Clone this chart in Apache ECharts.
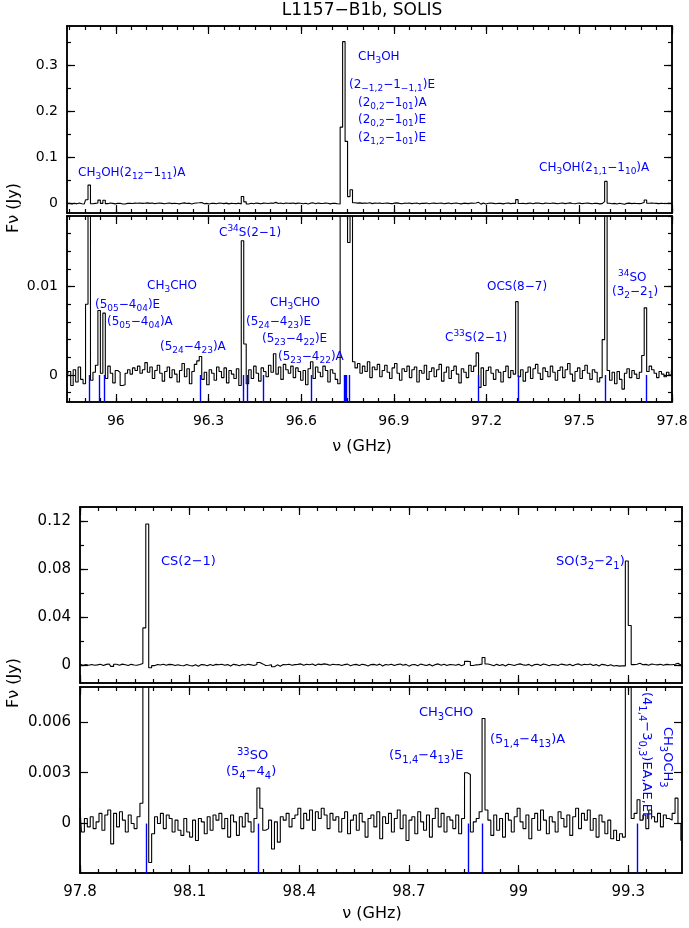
<!DOCTYPE html>
<html><head><meta charset="utf-8">
<script src="https://cdn.jsdelivr.net/npm/echarts@6/dist/echarts.min.js"></script>
<style>html,body{margin:0;padding:0;background:#fff}#c{width:689px;height:928px}</style>
</head><body><div id="c"></div>
<script>
// ---------------- DATA ----------------
// Upper spectrum (95.84-97.80 GHz): channel centres = start + i*width, flux in mJy
const topFreqStart = 95.842;
const topChannelWidth = 0.008;
const topFluxMJy = [
 -0.3, 0.4, -1.2, 0.6, -0.8, 0.9, -0.5, -1.0, 8.0, 40,
 -0.6, 0.3, 1.1, 7.3, 0.2, 7.0, -0.4, 1.0, 0.2, -0.9,
 0.5, 0.3, -1.2, -1.1, 0.2, 0.6, 0.1, 0.8, 0.5, 1.0,
 0.2, 0.6, 1.4, 0.3, 0.9, -0.4, 0.5, 1.1, 0.2, -0.7,
 0.4, 0.9, -0.3, 0.6, 0.1, -0.8, 0.5, 1.3, -0.2, 0.7,
 -1.0, 0.4, 1.2, 1.6, 2.1, -0.5, 0.3, -1.1, 0.6, 0.2,
 -0.6, 0.9, 0.4, -0.3, 0.8, -0.9, 0.5, 0.1, -0.4, 0.7,
 -1.2, 15.2, 3.5, -1.0, 0.6, -0.4, 1.0, 0.2, -0.7, 0.8,
 0.4, -0.2, 1.1, 0.3, 2.4, 0.1, 0.9, -0.5, 1.2, 0.6,
 0.2, 1.0, -0.3, 0.8, 0.4, -0.6, 0.5, -1.1, 0.7, 1.5,
 -0.4, 0.9, 0.3, -0.2, 1.0, 0.5, -0.8, 0.6, 0.2, -0.5,
 -1.0, 166, 352, 135, 15, 30, 1.5, 0.8, 1.3, 0.2,
 1.0, 0.4, 1.5, -0.3, 0.9, 0.6, 1.2, -0.2, 0.5, 1.1,
 0.3, -0.4, 0.8, 1.3, 0.2, -0.6, 0.7, 0.4, 1.0, -0.3,
 0.6, 0.9, -0.8, 0.5, 0.2, 1.1, -0.5, 0.4, 0.8, -0.2,
 0.6, 1.2, -0.7, 0.3, 0.9, -0.4, 0.5, 1.0, 0.1, -0.9,
 0.7, 0.3, -0.3, 1.1, 0.4, 1.0, 2.5, -1.4, 0.8, -1.2,
 0.5, 0.9, 0.2, -0.5, 0.6, 0.3, -0.8, 0.4, 1.0, -0.3,
 0.5, 0.1, 8.3, -0.2, 0.6, -0.7, 0.3, 0.9, -0.4, 0.7,
 1.2, 0.2, -0.5, 0.8, 0.4, -0.2, 1.0, 0.3, -0.6, 0.5,
 0.9, -0.3, 0.6, 1.3, 0.1, -0.7, 0.4, 0.8, -0.4, 0.5,
 1.1, 0.2, -0.5, 0.6, 0.3, -0.8, -0.3, 4.0, 48, 0.5,
 -0.6, 0.3, -1.0, 0.4, -0.5, -1.6, 0.2, 0.7, -0.3, 0.5,
 0.1, -0.4, 0.3, 2.2, 7.6, 0.4, 1.0, 0.6, 0.2, -0.3,
 0.4, 0.1, -0.2, 0.3, 0.0, 0.5
];
// Lower spectrum (97.80-99.45 GHz)
const botFreqStart = 97.8;
const botChannelWidth = 0.008;
const botFluxMJy = [
 0.9, -0.5, 0.3, -0.2, 0.4, -0.3, 0.1, 0.6, -0.4, 0.5,
 0.8, -1.2, 0.6, -0.2, 0.7, 0.2, -0.5, 0.5, 0.0, -0.3,
 0.4, 1.2, 31, 118, -2.3, -0.6, 0.4, 0.0, 0.6, -0.3,
 0.5, 0.3, -0.5, 0.2, -0.4, -0.7, 0.3, -0.5, -0.8, 0.2,
 -1.0, 0.3, 0.1, -0.6, 0.4, -0.4, 0.5, 0.2, 0.6, -0.3,
 0.3, -0.8, 0.5, 0.1, -0.7, 0.4, -0.2, 0.6, 0.1, -0.5,
 0.3, 2.1, 0.9, -0.4, -0.3, 0.2, -1.5, 0.1, -1.1, 0.4,
 0.2, 0.6, -0.2, 0.3, 0.5, 0.9, -0.3, 0.6, 0.2, 0.8,
 -0.4, 0.7, 0.3, 0.9, 0.5, -0.3, 0.6, 0.2, 0.4, -0.5,
 0.3, 0.7, -0.6, 0.2, 0.5, -0.4, 0.6, 0.1, -0.8, 0.3,
 0.5, -0.2, 0.7, -0.9, 0.4, 0.0, 0.6, -0.5, 0.3, 0.8,
 -0.3, 0.5, -1.0, 0.2, 0.4, -0.6, 0.7, 0.1, -0.4, 0.5,
 -0.8, 0.3, 0.9, -0.2, 0.6, -0.5, 0.4, 0.2, -0.3, 0.5,
 -0.6, 0.3, 3.0, 2.9, -0.5, 0.1, 0.3, 0.7, 6.2, 0.8,
 0.2, -0.7, 0.5, -0.4, 0.3, -0.8, 0.6, 0.2, -0.5, 0.4,
 0.9, 0.1, -0.3, 0.5, -0.9, 0.3, 0.6, -0.4, 0.8, 0.2,
 -0.6, 0.4, 0.1, -0.5, 0.7, 0.3, -0.2, 0.5, -0.7, 0.4,
 0.9, -0.3, 0.6, 0.2, 0.8, -0.4, 0.3, -0.8, 0.5, 0.1,
 -0.6, 0.2, -0.9, -0.4, -1.0, -0.6, -0.8, 87, 33, 0.3,
 0.6, 1.4, 0.2, 0.5, -0.3, 0.8, 0.4, 0.1, 0.6, -0.2,
 0.5, 0.3, 0.2, 0.6, 1.5, 0.0, -1.0
];
// Rest frequencies of identified lines (blue markers), GHz
const topLineFreqs = [95.9143, 95.9474, 95.9633, 96.2742, 96.4130, 96.4256, 96.4757, 96.6327,
  96.7394, 96.7414, 96.7445, 96.7555, 97.1720, 97.3012, 97.5828, 97.7153];
const botLineFreqs = [97.9810, 98.2880, 98.8633, 98.9009, 99.3249];
// Tick labels
const topXTicks = [96, 96.3, 96.6, 96.9, 97.2, 97.5, 97.8];
const botXTicks = [97.8, 98.1, 98.4, 98.7, 99, 99.3];
const p1YTicks = [0, 0.1, 0.2, 0.3];
const p2YTicks = [0, 0.01];
const p3YTicks = [0, 0.04, 0.08, 0.12];
const p4YTicks = [0, 0.003, 0.006];

// ---------------- LAYOUT / STYLE ----------------
const FONT = 'DejaVu Sans';
const BLUE = '#0000ff';
function steps(a, b, d) { const o = []; for (let k = 0; ; k++) { const v = +(a + k * d).toFixed(4); if (v > b + 1e-9) break; o.push(v); } return o; }
const topXMinor = steps(95.85, 97.8, 0.05);
const botXMinor = steps(97.8, 99.45, 0.05);

const panels = [
  { grid: { left: 67, top: 26, width: 605, height: 187 }, x: [95.842, 97.8], y: [-0.0207, 0.386],
    xMaj: topXTicks, xMin: topXMinor, yMaj: p1YTicks, yMin: steps(0, 0.35, 0.05), xLab: false, fs: 14 },
  { grid: { left: 67, top: 216, width: 605, height: 186 }, x: [95.842, 97.8], y: [-0.00306, 0.0180],
    xMaj: topXTicks, xMin: topXMinor, yMaj: p2YTicks, yMin: steps(-0.002, 0.018, 0.002), xLab: true, fs: 14 },
  { grid: { left: 80, top: 507, width: 602, height: 176 }, x: [97.8, 99.447], y: [-0.0151, 0.1322],
    xMaj: botXTicks, xMin: botXMinor, yMaj: p3YTicks, yMin: steps(0, 0.12, 0.02), xLab: false, fs: 15 },
  { grid: { left: 80, top: 687, width: 602, height: 186 }, x: [97.8, 99.447], y: [-0.00292, 0.00806],
    xMaj: botXTicks, xMin: botXMinor, yMaj: p4YTicks, yMin: [], xLab: true, fs: 15 }
];

function axis(gi, pos, range, ticks, len, showLab, fs, margin) {
  return {
    type: 'value', gridIndex: gi, position: pos, min: range[0], max: range[1], scale: true,
    axisLine: { show: true, onZero: false, lineStyle: { color: '#000', width: 1.5 } },
    axisTick: { show: ticks.length > 0, inside: true, length: len, customValues: ticks, lineStyle: { color: '#000', width: 1.2 } },
    axisLabel: showLab ? { show: true, customValues: ticks, color: '#000', fontFamily: FONT, fontSize: fs, margin: margin } : { show: false },
    splitLine: { show: false }, minorTick: { show: false }
  };
}

const grids = [], xAxes = [], yAxes = [];
panels.forEach((p, gi) => {
  grids.push(Object.assign({ outerBoundsMode: 'none', containLabel: false }, p.grid));
  xAxes.push(axis(gi, 'bottom', p.x, p.xMaj, 8, p.xLab, p.fs, 12));
  xAxes.push(axis(gi, 'bottom', p.x, p.xMin, 4, false, p.fs, 12));
  xAxes.push(axis(gi, 'top', p.x, p.xMaj, 8, false, p.fs, 12));
  xAxes.push(axis(gi, 'top', p.x, p.xMin, 4, false, p.fs, 12));
  yAxes.push(axis(gi, 'left', p.y, p.yMaj, 8, true, p.fs, 9));
  yAxes.push(axis(gi, 'left', p.y, p.yMin, 4, false, p.fs, 9));
  yAxes.push(axis(gi, 'right', p.y, p.yMaj, 8, false, p.fs, 9));
  yAxes.push(axis(gi, 'right', p.y, p.yMin, 4, false, p.fs, 9));
});

const topData = topFluxMJy.map((v, i) => [topFreqStart + i * topChannelWidth, v / 1000]);
const botData = botFluxMJy.map((v, i) => [botFreqStart + i * botChannelWidth, v / 1000]);

function spectrum(gi, data, markers) {
  const s = {
    type: 'line', step: 'middle', xAxisIndex: gi * 4, yAxisIndex: gi * 4, data: data,
    showSymbol: false, symbol: 'none', clip: true, silent: true, z: 3,
    lineStyle: { color: '#000', width: 1.1 }
  };
  if (markers) {
    const yb = panels[gi].y[0];
    s.markLine = {
      symbol: ['none', 'none'], silent: true, animation: false, label: { show: false },
      lineStyle: { color: BLUE, width: 1.4, type: 'solid' },
      data: markers.map(f => [{ coord: [f, 0] }, { coord: [f, yb] }])
    };
  }
  return s;
}

// rich text helper: '_{..}' subscript, '^{..}' superscript
function toRich(s) {
  let out = '', buf = '', i = 0;
  const flush = () => { if (buf) { out += '{n|' + buf + '}'; buf = ''; } };
  while (i < s.length) {
    const c = s[i];
    if (c === '_' || c === '^') {
      flush();
      let t;
      if (s[i + 1] === '{') { const j = s.indexOf('}', i + 2); t = s.slice(i + 2, j); i = j + 1; }
      else { t = s[i + 1]; i += 2; }
      out += '{' + (c === '_' ? 's' : 'p') + '|' + t + '}';
    } else { buf += c; i++; }
  }
  flush();
  return out;
}
function rich(fs) {
  const sf = Math.round(fs * 0.74);
  return {
    n: { fontSize: fs, fontFamily: FONT, fill: BLUE, lineHeight: fs + 5 },
    s: { fontSize: sf, fontFamily: FONT, fill: BLUE, verticalAlign: 'bottom' },
    p: { fontSize: sf, fontFamily: FONT, fill: BLUE, verticalAlign: 'top' }
  };
}
const annotations = [
  // panel 1
  { t: 'CH_3OH', x: 358, y: 57, fs: 12 },
  { t: '(2_{−1,2}−1_{−1,1})E', x: 349, y: 85, fs: 12 },
  { t: '(2_{0,2}−1_{01})A', x: 358, y: 103, fs: 12 },
  { t: '(2_{0,2}−1_{01})E', x: 358, y: 120, fs: 12 },
  { t: '(2_{1,2}−1_{01})E', x: 358, y: 138, fs: 12 },
  { t: 'CH_3OH(2_{12}−1_{11})A', x: 78, y: 173, fs: 12 },
  { t: 'CH_3OH(2_{1,1}−1_{10})A', x: 539, y: 168, fs: 12 },
  // panel 2
  { t: 'C^{34}S(2−1)', x: 219, y: 233, fs: 12 },
  { t: 'CH_3CHO', x: 147, y: 286, fs: 12 },
  { t: '(5_{05}−4_{04})E', x: 95, y: 305, fs: 12 },
  { t: '(5_{05}−4_{04})A', x: 107, y: 322, fs: 12 },
  { t: '(5_{24}−4_{23})A', x: 160, y: 347, fs: 12 },
  { t: 'CH_3CHO', x: 270, y: 303, fs: 12 },
  { t: '(5_{24}−4_{23})E', x: 246, y: 322, fs: 12 },
  { t: '(5_{23}−4_{22})E', x: 262, y: 339, fs: 12 },
  { t: '(5_{23}−4_{22})A', x: 278, y: 357, fs: 12 },
  { t: 'C^{33}S(2−1)', x: 445, y: 338, fs: 12 },
  { t: 'OCS(8−7)', x: 487, y: 287, fs: 12 },
  { t: '^{34}SO', x: 618, y: 278, fs: 12 },
  { t: '(3_2−2_1)', x: 612, y: 292, fs: 12 },
  // panel 3
  { t: 'CS(2−1)', x: 161, y: 562, fs: 13 },
  { t: 'SO(3_2−2_1)', x: 556, y: 562, fs: 13 },
  // panel 4
  { t: '^{33}SO', x: 237, y: 756, fs: 13 },
  { t: '(5_4−4_4)', x: 226, y: 772, fs: 13 },
  { t: 'CH_3CHO', x: 419, y: 713, fs: 13 },
  { t: '(5_{1,4}−4_{13})E', x: 389, y: 756, fs: 13 },
  { t: '(5_{1,4}−4_{13})A', x: 490, y: 740, fs: 13 },
  { t: 'CH_3OCH_3', x: 667, y: 727, fs: 13, rot: true },
  { t: '(4_{1,4}−3_{0,3})EA,AE,EE', x: 646, y: 692, fs: 13, rot: true }
];

const graphics = annotations.map(a => ({
  type: 'text', x: a.x, y: a.y, rotation: a.rot ? -Math.PI / 2 : 0, silent: true, z: 10,
  style: { text: toRich(a.t), rich: rich(a.fs), fill: BLUE, fontFamily: FONT, fontSize: a.fs, align: 'left', verticalAlign: 'middle' }
}));
function plainText(txt, x, y, fs, rot) {
  return { type: 'text', x, y, rotation: rot || 0, silent: true, z: 10,
    style: { text: txt, fill: '#000', fontFamily: FONT, fontSize: fs, align: 'center', verticalAlign: 'middle' } };
}
graphics.push(plainText('L1157−B1b, SOLIS', 362, 11, 17));
graphics.push(plainText('Fν (Jy)', 14, 208, 16, Math.PI / 2));
graphics.push(plainText('Fν (Jy)', 14, 683, 16, Math.PI / 2));
graphics.push(plainText('ν (GHz)', 362, 447, 16));
graphics.push(plainText('ν (GHz)', 372, 914, 16));

const chart = echarts.init(document.getElementById('c'), null, { renderer: 'canvas' });
chart.setOption({
  animation: false,
  backgroundColor: '#fff',
  grid: grids,
  xAxis: xAxes,
  yAxis: yAxes,
  series: [
    spectrum(0, topData, null),
    spectrum(1, topData, topLineFreqs),
    spectrum(2, botData, null),
    spectrum(3, botData, botLineFreqs)
  ],
  graphic: graphics
});
</script>
</body></html>
